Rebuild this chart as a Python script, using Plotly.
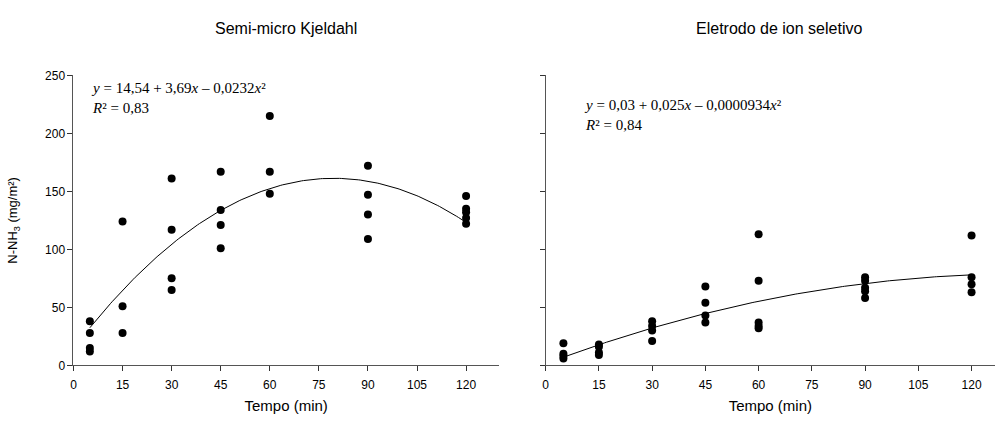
import numpy as np
import plotly.graph_objects as go

# ---- data ----
kj_time = [5, 5, 5, 5, 15, 15, 15, 30, 30, 30, 30, 45, 45, 45, 45, 60, 60, 60,
           90, 90, 90, 90, 120, 120, 120, 120, 120]
kj_nh3 = [38, 28, 15, 12, 124, 51, 28, 161, 117, 75, 65, 167, 134, 121, 101, 215, 167, 148,
          172, 147, 130, 109, 146, 135, 132, 127, 122]

ise_time = [5, 5, 5, 5, 15, 15, 15, 15, 30, 30, 30, 30, 45, 45, 45, 45, 60, 60, 60, 60, 60,
            90, 90, 90, 90, 90, 120, 120, 120, 120]
ise_nh3 = [19, 10, 8, 6, 18, 16, 11, 9, 38, 34, 30, 21, 68, 54, 43, 37, 113, 73, 37, 34, 32,
           76, 73, 67, 64, 58, 112, 76, 70, 63]

kj_coef = [14.54, 3.69, -0.0232]       # fitted quadratic (Semi-micro Kjeldahl)
ise_coef = [1.39, 1.157, -0.00432]     # fitted quadratic as drawn (Eletrodo)
fit_range = [5, 120]

x_ticks = [0, 15, 30, 45, 60, 75, 90, 105, 120]
y_ticks = [0, 50, 100, 150, 200, 250]

titles = ["Semi-micro Kjeldahl", "Eletrodo de ion seletivo"]
eq_texts = ["<i>y</i> = 14,54 + 3,69<i>x</i> \u2013 0,0232<i>x</i>\u00b2<br><i>R</i>\u00b2 = 0,83",
            "<i>y</i> = 0,03 + 0,025<i>x</i> \u2013 0,0000934<i>x</i>\u00b2<br><i>R</i>\u00b2 = 0,84"]

# ---- figure ----
W, H = 995, 421
fig = go.Figure()

xf = np.linspace(fit_range[0], fit_range[1], 200)
for i, (tx, ty, coef) in enumerate([(kj_time, kj_nh3, kj_coef), (ise_time, ise_nh3, ise_coef)]):
    xa = "x" if i == 0 else "x2"
    ya = "y" if i == 0 else "y2"
    yf = coef[0] + coef[1] * xf + coef[2] * xf ** 2
    fig.add_trace(go.Scatter(x=xf, y=yf, mode="lines", line=dict(color="black", width=1),
                             xaxis=xa, yaxis=ya, showlegend=False, hoverinfo="skip",
                             cliponaxis=False))
    fig.add_trace(go.Scatter(x=tx, y=ty, mode="markers",
                             marker=dict(color="black", size=8),
                             xaxis=xa, yaxis=ya, showlegend=False, cliponaxis=False))

SANS = "Liberation Sans, Arial"
SERIF = "Liberation Serif, Times New Roman"
axis_common = dict(showgrid=False, zeroline=False, showline=True, linecolor="#555555",
                   linewidth=1, ticks="outside", ticklen=5, tickcolor="#333333",
                   tickfont=dict(family=SANS, size=12, color="black"))

# pixel geometry
L1, R1 = 70.7, 497.3
L2, R2 = 544.3, 995
T, B = 70.7, 370.7

fig.update_layout(
    width=W, height=H,
    margin=dict(l=0, r=0, t=0, b=0),
    paper_bgcolor="white", plot_bgcolor="white",
    font=dict(family=SANS, color="black"),
    xaxis=dict(domain=[L1 / W, R1 / W], range=[0, 130], tickvals=x_ticks,
               ticklabelstandoff=3,
               title=dict(text="Tempo (min)", font=dict(size=15), standoff=9),
               anchor="y", **axis_common),
    yaxis=dict(domain=[1 - B / H, 1 - T / H], range=[0, 250], tickvals=y_ticks,
               title=dict(text="N-NH<sub>3</sub> (mg/m\u00b2)", font=dict(size=13), standoff=24),
               anchor="x", **axis_common),
    xaxis2=dict(domain=[L2 / W, R2 / W], range=[0, (R2 - L2) / 3.56], tickvals=x_ticks,
                ticklabelstandoff=3,
                title=dict(text="Tempo (min)", font=dict(size=15), standoff=9),
                anchor="y2", **axis_common),
    yaxis2=dict(domain=[1 - B / H, 1 - T / H], range=[0, 250], tickvals=y_ticks,
                showticklabels=False, anchor="x2", **axis_common),
)

for cx, tt in [((L1 + R1) / 2, titles[0]), (778, titles[1])]:
    fig.add_annotation(text=tt, xref="paper", yref="paper", x=cx / W, y=1 - 22 / H,
                       xanchor="center", yanchor="middle", showarrow=False,
                       font=dict(family=SANS, size=16, color="black"))

for (ex, ey), txt in zip([(86, 73), (581, 91)], eq_texts):
    fig.add_annotation(text=txt, xref="paper", yref="paper", x=ex / W, y=1 - ey / H,
                       xanchor="left", yanchor="top", align="left", showarrow=False,
                       font=dict(family=SERIF, size=15, color="black"))

fig.write_html("out.html", config={"displayModeBar": False},
               post_script="document.body.style.margin='0px';")
